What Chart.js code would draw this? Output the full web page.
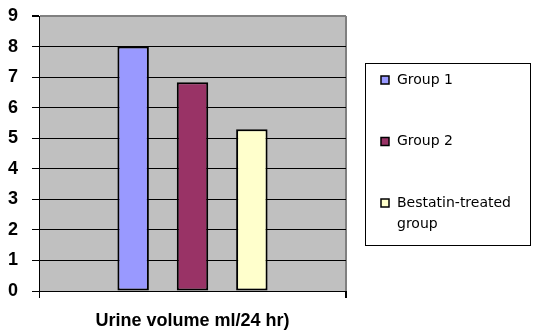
<!DOCTYPE html>
<html>
<head>
<meta charset="utf-8">
<script src="https://cdn.jsdelivr.net/npm/chart.js@4/dist/chart.umd.min.js"></script>
<style>
  html, body { margin: 0; padding: 0; background: #fff; }
  #wrap { width: 535px; height: 335px; }
</style>
</head>
<body>
<div id="wrap"><canvas id="urine-chart" width="535" height="335"></canvas></div>
<script>
const categories = ["Urine volume ml/24 hr)"];
const seriesNames = ["Group 1", "Group 2", "Bestatin-treated group"];
const seriesValues = [8.0, 6.83, 5.29];
const seriesColors = ["#9999FF", "#993366", "#FFFFCC"];
const yMin = 0;
const yMax = 9;

Chart.defaults.font.family = "'Liberation Sans', Arial, sans-serif";
Chart.defaults.color = "#000";

// grey plot area like the old excel chart
const plotBackground = {
  id: "plotBackground",
  beforeDraw(chart) {
    const { ctx, chartArea } = chart;
    ctx.save();
    ctx.fillStyle = "#C0C0C0";
    ctx.fillRect(chartArea.left, chartArea.top, chartArea.width, chartArea.height);
    ctx.restore();
  },
};

// boxed legend on the right, labels wrapped
const boxLegend = {
  id: "boxLegend",
  afterDraw(chart) {
    const ctx = chart.ctx;
    ctx.save();
    ctx.strokeStyle = "#000";
    ctx.lineWidth = 1;
    ctx.strokeRect(365.5, 63.5, 165, 182);
    ctx.font = "14px 'DejaVu Sans', Verdana, sans-serif";
    ctx.textBaseline = "middle";
    ctx.textAlign = "left";
    chart.data.datasets.forEach((ds, i) => {
      const cy = 80 + i * 61.5;
      ctx.fillStyle = ds.backgroundColor;
      ctx.fillRect(381, cy - 4, 8, 8);
      ctx.lineWidth = 1.5;
      ctx.strokeRect(381, cy - 4, 8, 8);
      const words = ds.label.split(" ");
      const lines = [];
      let line = "";
      words.forEach((w) => {
        const test = line ? line + " " + w : w;
        if (line && ctx.measureText(test).width > 125) {
          lines.push(line);
          line = w;
        } else {
          line = test;
        }
      });
      lines.push(line);
      ctx.fillStyle = "#000";
      lines.forEach((l, j) => ctx.fillText(l, 397, cy + j * 21.5));
    });
    ctx.restore();
  },
};

const urineChart = new Chart(document.getElementById("urine-chart"), {
  type: "bar",
  data: {
    labels: categories,
    datasets: seriesNames.map((name, i) => ({
      label: name,
      data: [seriesValues[i]],
      backgroundColor: seriesColors[i],
      borderColor: "#000",
      borderWidth: 2,
      borderSkipped: false,
      categoryPercentage: 0.58,
      barPercentage: 0.53,
    })),
  },
  options: {
    responsive: false,
    animation: false,
    layout: {
      padding: { left: 0, top: 16, right: 189, bottom: 0 },
    },
    plugins: {
      legend: { display: false },
      tooltip: { enabled: false },
    },
    scales: {
      x: {
        afterFit(scale) {
          scale.height = 44;
          scale.paddingLeft = 0;
          scale.paddingRight = 0;
        },
        border: { color: "#000", width: 1 },
        grid: {
          offset: true,
          drawOnChartArea: true,
          color: (ctx) => (ctx.index === 0 ? "#000" : "#808080"),
          lineWidth: (ctx) => (ctx.index === 0 ? 1 : 2),
          tickColor: "#000",
          tickLength: 7,
        },
        ticks: {
          padding: 12,
          font: { size: 18, weight: "bold" },
          color: "#000",
        },
      },
      y: {
        min: yMin,
        max: yMax,
        afterFit(scale) {
          scale.width = 39;
          scale.paddingTop = 0;
          scale.paddingBottom = 0;
        },
        border: { color: "#000", width: 1 },
        grid: {
          color: (ctx) => (ctx.tick && ctx.tick.value === yMax ? "#808080" : "#000"),
          lineWidth: (ctx) => (ctx.tick && ctx.tick.value === yMax ? 2 : 1),
          tickColor: "#000",
          tickLength: 7,
        },
        ticks: {
          stepSize: 1,
          padding: 14,
          font: { size: 18, weight: "bold" },
          color: "#000",
        },
      },
    },
  },
  plugins: [plotBackground, boxLegend],
});
</script>
</body>
</html>
